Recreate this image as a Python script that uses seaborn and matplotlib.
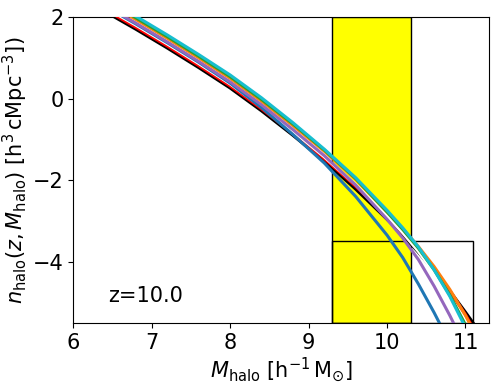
import pandas as pd
import seaborn as sns
import matplotlib
matplotlib.use('Agg')
import matplotlib.pyplot as plt
from matplotlib.patches import Rectangle

# halo mass grid (log10 M_halo) and log10 n_halo for each curve
log_m = [6.4, 6.8, 7.2, 7.6, 8.0, 8.4, 8.8, 9.2, 9.6, 10.0, 10.2, 10.4, 10.6, 10.8, 11.0, 11.2]

n_black  = [2.14, 1.70, 1.24, 0.76, 0.26, -0.30, -0.90, -1.53, -2.22, -2.96, -3.35, -3.77, -4.23, -4.72, -5.24, -5.78]
n_red    = [2.19, 1.75, 1.29, 0.81, 0.31, -0.25, -0.85, -1.47, -2.15, -2.89, -3.29, -3.72, -4.20, -4.72, -5.30, -5.98]
n_white  = [2.24, 1.80, 1.34, 0.86, 0.36, -0.20, -0.80, -1.43, -2.11, -2.87, -3.29, -3.75, -4.28, -4.88, -5.55, -6.30]
n_blue   = [2.27, 1.83, 1.37, 0.89, 0.38, -0.22, -0.88, -1.58, -2.40, -3.35, -3.90, -4.55, -5.25, -6.00, -6.75, -7.50]
n_purple = [2.29, 1.85, 1.39, 0.91, 0.41, -0.15, -0.76, -1.40, -2.12, -2.96, -3.42, -3.95, -4.60, -5.32, -6.10, -6.95]
n_orange = [2.38, 1.94, 1.48, 1.00, 0.50, -0.06, -0.66, -1.29, -1.98, -2.78, -3.19, -3.63, -4.12, -4.68, -5.32, -6.05]
n_green  = [2.42, 1.98, 1.52, 1.04, 0.54, -0.02, -0.62, -1.26, -1.96, -2.78, -3.21, -3.67, -4.20, -4.82, -5.55, -6.35]
n_cyan   = [2.46, 2.02, 1.56, 1.08, 0.58, 0.02, -0.59, -1.24, -1.94, -2.74, -3.17, -3.64, -4.20, -4.85, -5.62, -6.45]

curves = [(n_black, 'black'), (n_red, 'red'), (n_white, 'white'),
          (n_blue, 'tab:blue'), (n_purple, 'tab:purple'), (n_orange, 'tab:orange'),
          (n_green, 'tab:green'), (n_cyan, 'tab:cyan')]

# observed mass window and box
win_lo, win_hi = 9.3, 10.3
box_x, box_w = 9.3, 1.8
box_y, box_h = -5.5, 2.0

fig = plt.figure(figsize=(4.98, 3.88), dpi=100)
ax = fig.add_axes([0.147, 0.168, 0.835, 0.788])

ax.axvspan(win_lo, win_hi, facecolor='yellow', edgecolor='black', lw=1, zorder=1)
ax.add_patch(Rectangle((box_x, box_y), box_w, box_h, fill=False, edgecolor='black', lw=1, zorder=2))

for vals, col in curves:
    df = pd.DataFrame({'m': log_m, 'n': vals})
    sns.lineplot(data=df, x='m', y='n', color=col, lw=2.2, ax=ax, zorder=3)

ax.text(6.45, -4.85, 'z=10.0', fontsize=15, va='center')

ax.set_xlim(6, 11.3)
ax.set_ylim(-5.5, 2)
ax.set_xticks([6, 7, 8, 9, 10, 11])
ax.set_yticks([-4, -2, 0, 2])
ax.tick_params(labelsize=15)
ax.set_xlabel(r'$M_{\rm halo}$ [h$^{-1}\,$M$_{\odot}$]', fontsize=15, labelpad=2)
ax.set_ylabel(r'$n_{\rm halo}(z, M_{\rm halo})$ [h$^{3}\,$cMpc$^{-3}$])', fontsize=15, labelpad=2)

fig.savefig('out.png', dpi=100)
